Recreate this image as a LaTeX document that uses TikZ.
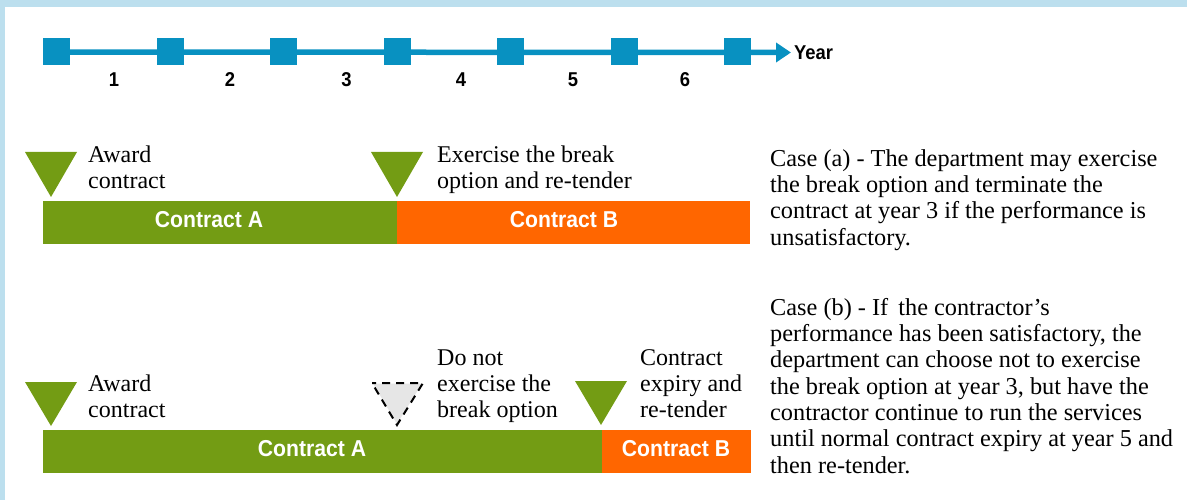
\documentclass[tikz,border=0pt]{standalone}
\usepackage{fontspec}
\setmainfont{Liberation Serif}
\newfontfamily\condsans[FakeStretch=0.92]{Liberation Sans}
\usetikzlibrary{arrows.meta}

\definecolor{frameblue}{HTML}{BCDFEE}
\definecolor{lineblue}{HTML}{0891C1}
\definecolor{olive}{HTML}{739C14}
\definecolor{tangerine}{HTML}{FF6600}
\definecolor{ghost}{HTML}{E6E6E6}

% multi-line nodes sit on the baseline of their last line
\tikzset{
  yearsq/.style={fill=lineblue, draw=none, minimum size=27pt, inner sep=0pt},
  yearnum/.style={font=\condsans\bfseries\fontsize{20}{24}\selectfont, anchor=base, inner sep=0pt},
  barlabel/.style={font=\condsans\bfseries\fontsize{23}{26}\selectfont, text=white, anchor=base, inner sep=0pt},
  note/.style={font=\fontsize{24}{26}\selectfont, align=left, anchor=base west, inner sep=0pt},
  casetext/.style={font=\fontsize{24.3}{26.3}\selectfont, align=left, anchor=base west, inner sep=0pt},
  marker/.style={fill=olive, draw=none},
}

\begin{document}
\begin{tikzpicture}[x=1pt, y=-1pt]
  \useasboundingbox (0,0) rectangle (1187,500);
  % frame edges
  \fill[frameblue] (0,0) rectangle (1187,7);
  \fill[frameblue] (0,0) rectangle (5,500);

  % timeline
  \coordinate (axisend) at (791,52.5);
  \foreach \i/\x in {0/56.5,1/170,2/283.5,3/397.5,4/510.5,5/624.5,6/737.5}
    \node[yearsq] (t\i) at (\x,52) {};
  \draw[lineblue, line width=5.5pt, -{Triangle[length=15pt,width=19pt]}] (t0.center) -- (axisend);
  \foreach \i/\x in {0/56.5,1/170,2/283.5,3/397.5,4/510.5,5/624.5,6/737.5}
    \node[yearsq] at (\x,52) {};
  \node[font=\condsans\bfseries\fontsize{20}{24}\selectfont, anchor=base west, inner sep=0pt] (year) at (794,60) {Year};
  \foreach \n/\x in {1/114,2/230,3/346.5,4/461,5/573,6/685}
    \node[yearnum] (y\n) at (\x,87) {\n};

  % case (a)
  \fill[marker] (25,152) -- (77,152) -- (51,197) -- cycle;
  \fill[marker] (371,152) -- (423,152) -- (397,197) -- cycle;
  \node[note] (awa) at (88,189) {Award\\contract};
  \node[note] (exa) at (437,189) {Exercise the break\\option and re-tender};
  \fill[olive] (43,201) rectangle (397,244);
  \fill[tangerine] (397,201) rectangle (750,244);
  \node[barlabel] (ca) at (209,227) {Contract A};
  \node[barlabel] (cb) at (564,227) {Contract B};
  \node[casetext] (casea) at (770,245) {Case (a) - The department may exercise\\the break option and terminate the\\contract at year 3 if the performance is\\unsatisfactory.};

  % case (b)
  \fill[marker] (25,382) -- (77,382) -- (51,426) -- cycle;
  \fill[ghost] (373,383.5) -- (422,383.5) -- (397,424) -- cycle;
  \draw[black, line width=2pt, dash pattern=on 8pt off 6pt, dash phase=4pt] (372,383) -- (423,383) -- (397,425) -- cycle;
  \fill[marker] (575,381) -- (627,381) -- (601,425) -- cycle;
  \node[note] (awb) at (88,417) {Award\\contract};
  \node[note] (dnb) at (437,417) {Do not\\exercise the\\break option};
  \node[note] (exb) at (640,417) {Contract\\expiry and\\re-tender};
  \fill[olive] (43,430) rectangle (602,473);
  \fill[tangerine] (602,430) rectangle (751,473);
  \node[barlabel] (cab) at (312,456) {Contract A};
  \node[barlabel] (cbb) at (676,456) {Contract B};
  \node[casetext] (caseb) at (770,473) {Case (b) - If\, the contractor’s\\performance has been satisfactory, the\\department can choose not to exercise\\the break option at year 3, but have the\\contractor continue to run the services\\until normal contract expiry at year 5 and\\then re-tender.};
\end{tikzpicture}
\end{document}
